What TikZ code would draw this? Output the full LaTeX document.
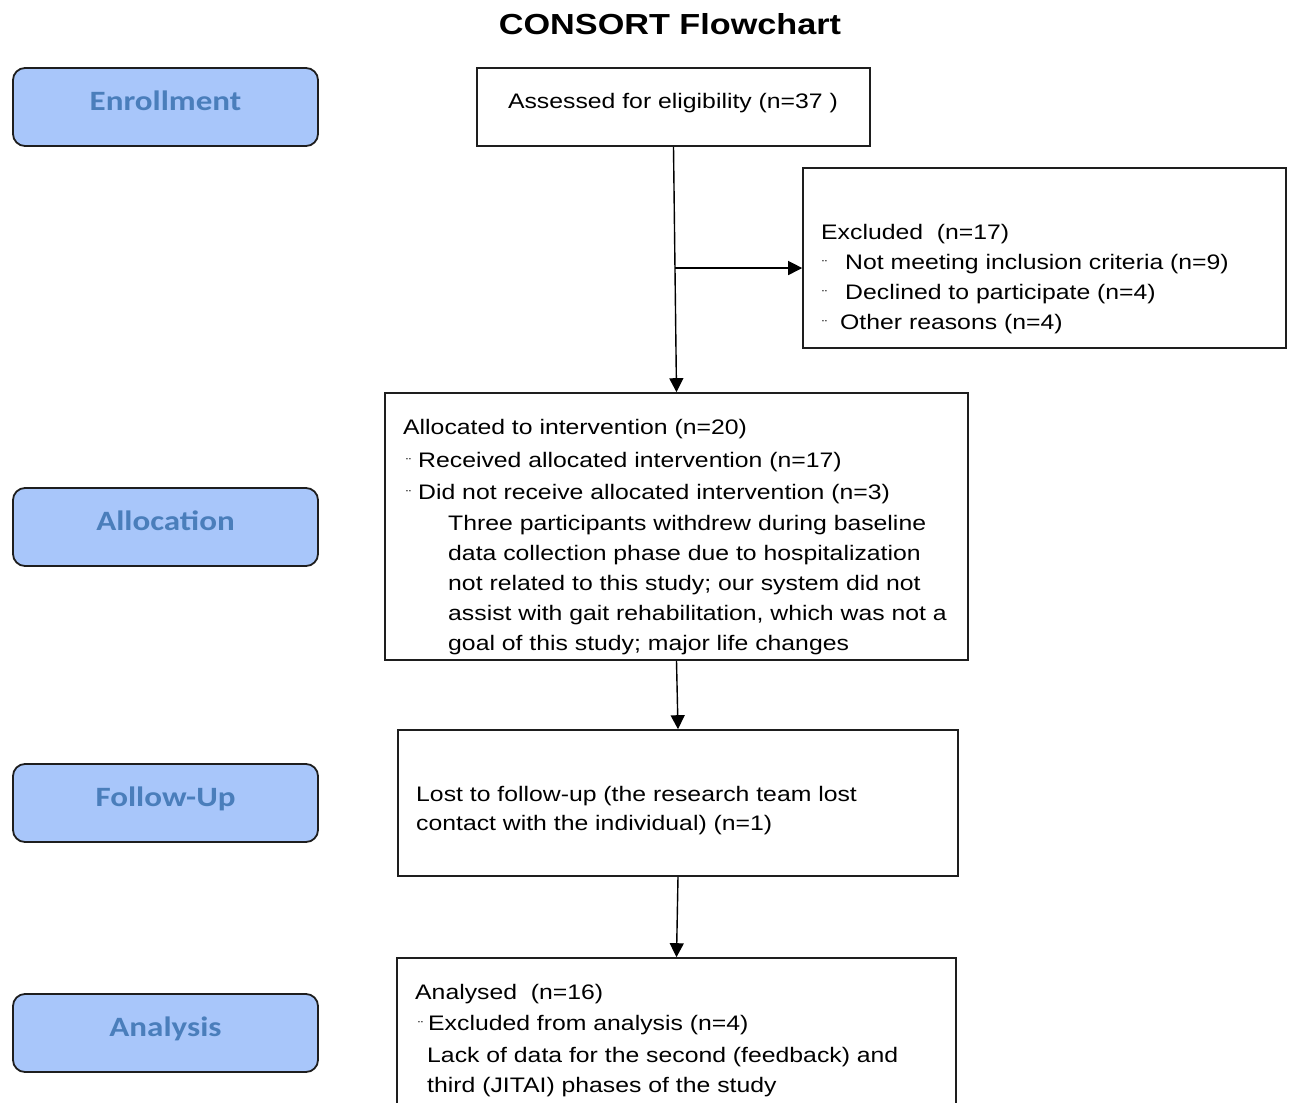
\documentclass[tikz,border=0pt]{standalone}
\usepackage{fontspec}
\setmainfont{Liberation Sans}[FakeStretch=1.18]
\newfontfamily\sidefont{Carlito}[FakeStretch=1.18]
\usetikzlibrary{arrows.meta,calc}
\definecolor{sidefill}{RGB}{168,198,250}
\definecolor{sidetext}{RGB}{74,126,187}
\definecolor{boxline}{RGB}{30,30,30}
\newcommand{\bul}[1]{\makebox[#1][l]{\fontsize{13}{13}\selectfont ¨}}
\begin{document}
\begin{tikzpicture}[x=1pt,y=-1pt,
  side/.style={draw=boxline,line width=1.8pt,fill=sidefill,rounded corners=12pt,
    minimum width=305pt,minimum height=78pt,inner sep=0pt,text=sidetext,
    font=\sidefont\bfseries\fontsize{28}{30}\selectfont,text depth=13pt},
  mainbox/.style={draw=boxline,line width=1.6pt,inner sep=0pt},
  txt/.style={inner sep=0pt,anchor=north west,align=left,font=\fontsize{21}{30}\selectfont},
  arr/.style={line width=1.4pt,-{Triangle[length=14pt,width=14pt]}}
]
\useasboundingbox (0,0) rectangle (1291,1103);
\clip (0,0) rectangle (1291,1103);

% title
\node[inner sep=0pt,font=\bfseries\fontsize{29}{30}\selectfont] (title) at (670,24) {CONSORT Flowchart};

% side labels
\node[side] (enr) at (165.5,107) {Enrollment};
\node[side] (allo) at (165.5,527) {Allocation};
\node[side] (fol) at (165.5,803) {Follow-Up};
\node[side] (ana) at (165.5,1033) {Analysis};

% main boxes
\node[mainbox,minimum width=393pt,minimum height=78pt] (assess) at (673.5,107) {};
\node[mainbox,minimum width=483pt,minimum height=180pt] (excl) at (1044.5,258) {};
\node[mainbox,minimum width=583pt,minimum height=267pt] (alloc) at (676.5,526.5) {};
\node[mainbox,minimum width=560pt,minimum height=146pt] (lost) at (678,803) {};
\node[mainbox,minimum width=559pt,minimum height=172pt] (anal) at (676.5,1044) {};

% texts
\node[inner sep=0pt,anchor=base,font=\fontsize{21}{30}\selectfont] (assessT) at (673,108.5) {Assessed for eligibility (n=37 )};
\node[txt] (exclT) at (821,224) {Excluded\ \ (n=17)\\
  \hspace*{1pt}\bul{23pt}Not meeting inclusion criteria (n=9)\\
  \hspace*{1pt}\bul{23pt}Declined to participate (n=4)\\
  \hspace*{1pt}\bul{18pt}Other reasons (n=4)};
\node[txt] (allocT) at (403,419) {Allocated to intervention (n=20)\\[3pt]
  \hspace*{3pt}\bul{12pt}Received allocated intervention (n=17)\\[2pt]
  \hspace*{3pt}\bul{12pt}Did not receive allocated intervention (n=3)};
\node[txt] (allocR) at (448,515) {Three participants withdrew during baseline\\
  data collection phase due to hospitalization\\
  not related to this study; our system did not\\
  assist with gait rehabilitation, which was not a\\
  goal of this study; major life changes};
\node[txt] (lostT) at (416,786) {Lost to follow-up (the research team lost\\[-1pt]
  contact with the individual) (n=1)};
\node[txt] (analT) at (415,984) {Analysed\ \ (n=16)\\[1pt]
  \hspace*{3pt}\bul{10pt}Excluded from analysis (n=4)\\[2pt]
  \hspace*{12pt}Lack of data for the second (feedback) and\\
  \hspace*{12pt}third (JITAI) phases of the study};

% connectors
\coordinate (br) at ($(assess.south)!0.494!(alloc.north)$);
\draw[arr] (assess.south) -- (alloc.north);
\draw[arr] (br) -- (br -| excl.west);
\draw[arr] (alloc.south) -- (lost.north);
\draw[arr] (lost.south) -- (anal.north);
\end{tikzpicture}
\end{document}
